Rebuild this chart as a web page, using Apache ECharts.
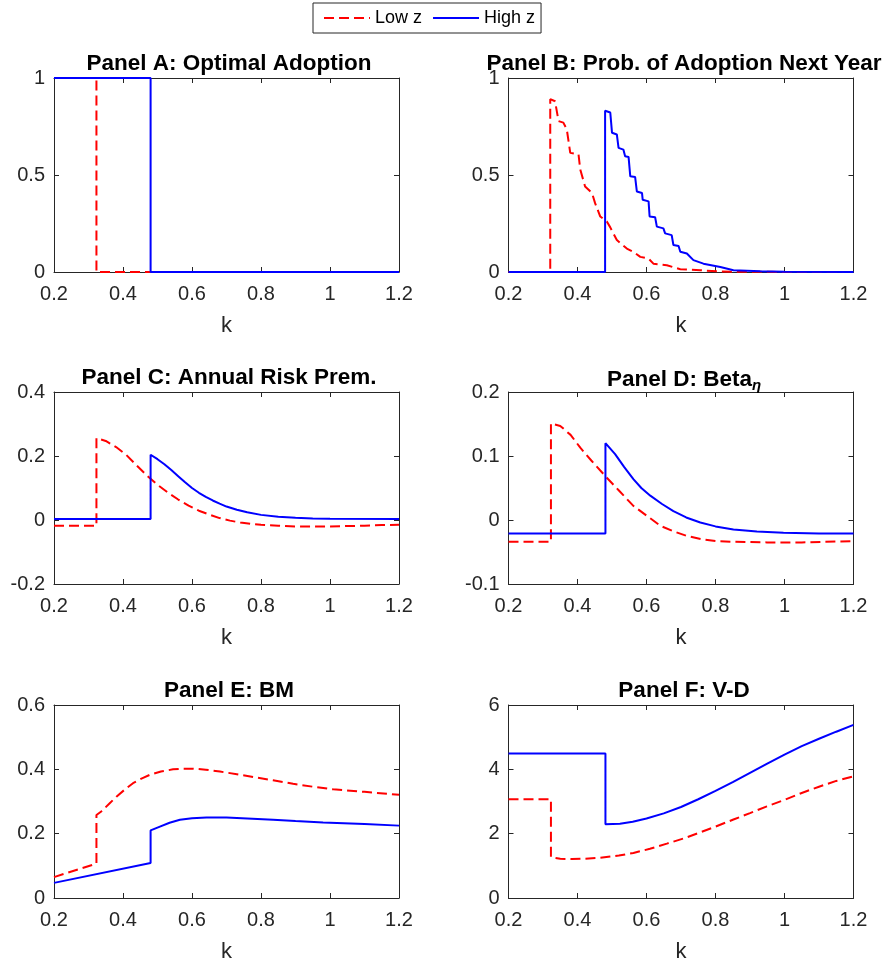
<!DOCTYPE html>
<html>
<head>
<meta charset="utf-8">
<script src="https://cdn.jsdelivr.net/npm/echarts@6/dist/echarts.min.js"></script>
<style>
  html, body { margin: 0; padding: 0; background: #fff; }
  #main { width: 887px; height: 966px; }
</style>
</head>
<body>
<div id="main"></div>
<script>
// x axis values (k) and the curves
var xTicks = [0.2, 0.4, 0.6, 0.8, 1, 1.2];

// Panel A: optimal adoption
var kLowA = [0.2, 0.323, 0.323, 1.2];
var lowA = [1, 1, 0, 0];
var kHighA = [0.2, 0.48, 0.48, 1.2];
var highA = [1, 1, 0, 0];

// Panel B: prob. of adoption next year
var kLowB = [0.2, 0.321, 0.321, 0.335, 0.345, 0.359, 0.369, 0.379, 0.403, 0.408, 0.422, 0.442, 0.451, 0.466, 0.485, 0.495, 0.504, 0.514, 0.543, 0.562, 0.582, 0.606, 0.620, 0.659, 0.698, 0.756, 0.804, 0.852, 1.2];
var lowB = [0, 0, 0.891, 0.88, 0.778, 0.770, 0.735, 0.614, 0.606, 0.528, 0.441, 0.407, 0.355, 0.286, 0.260, 0.230, 0.199, 0.165, 0.121, 0.104, 0.078, 0.069, 0.043, 0.035, 0.014, 0.009, 0.004, 0.001, 0];
var kHighB = [0.2, 0.48, 0.48, 0.495, 0.500, 0.514, 0.519, 0.533, 0.538, 0.548, 0.553, 0.567, 0.572, 0.587, 0.589, 0.606, 0.609, 0.625, 0.630, 0.649, 0.654, 0.673, 0.678, 0.693, 0.698, 0.717, 0.736, 0.765, 0.814, 0.852, 0.93, 1.0, 1.2];
var highB = [0, 0, 0.831, 0.822, 0.718, 0.709, 0.640, 0.631, 0.597, 0.593, 0.493, 0.490, 0.415, 0.407, 0.372, 0.364, 0.286, 0.282, 0.234, 0.225, 0.199, 0.190, 0.139, 0.134, 0.104, 0.095, 0.061, 0.043, 0.026, 0.009, 0.004, 0.001, 0];

// Panel C: annual risk premium
var kLowC = [0.2, 0.323, 0.323, 0.35, 0.38, 0.41, 0.44, 0.47, 0.50, 0.53, 0.56, 0.59, 0.62, 0.65, 0.68, 0.71, 0.74, 0.77, 0.80, 0.85, 0.90, 0.95, 1.00, 1.05, 1.10, 1.15, 1.20];
var lowC = [-0.018, -0.018, 0.256, 0.247, 0.228, 0.203, 0.170, 0.138, 0.110, 0.086, 0.064, 0.045, 0.029, 0.017, 0.006, -0.002, -0.008, -0.012, -0.015, -0.018, -0.020, -0.020, -0.020, -0.019, -0.018, -0.016, -0.015];
var kHighC = [0.2, 0.48, 0.48, 0.50, 0.52, 0.54, 0.56, 0.58, 0.60, 0.62, 0.64, 0.66, 0.68, 0.70, 0.73, 0.76, 0.80, 0.85, 0.90, 0.95, 1.0, 1.2];
var highC = [0.003, 0.003, 0.204, 0.190, 0.174, 0.156, 0.137, 0.118, 0.100, 0.085, 0.072, 0.061, 0.051, 0.042, 0.032, 0.024, 0.016, 0.010, 0.007, 0.005, 0.004, 0.003];

// Panel D: beta eta
var kLowD = [0.2, 0.323, 0.323, 0.35, 0.38, 0.408, 0.44, 0.47, 0.485, 0.52, 0.562, 0.60, 0.64, 0.68, 0.717, 0.76, 0.804, 0.85, 0.949, 1.05, 1.2];
var lowD = [-0.034, -0.034, 0.151, 0.147, 0.133, 0.113, 0.093, 0.075, 0.066, 0.046, 0.022, 0.007, -0.009, -0.018, -0.025, -0.030, -0.033, -0.034, -0.035, -0.035, -0.033];
var kHighD = [0.2, 0.481, 0.481, 0.509, 0.535, 0.562, 0.585, 0.611, 0.645, 0.678, 0.715, 0.756, 0.80, 0.852, 0.92, 0.997, 1.1, 1.2];
var highD = [-0.021, -0.021, 0.120, 0.103, 0.083, 0.064, 0.050, 0.038, 0.025, 0.014, 0.004, -0.004, -0.010, -0.015, -0.018, -0.020, -0.021, -0.021];

// Panel E: BM
var kLowE = [0.2, 0.323, 0.323, 0.337, 0.36, 0.381, 0.405, 0.429, 0.455, 0.478, 0.51, 0.545, 0.575, 0.603, 0.64, 0.681, 0.73, 0.777, 0.835, 0.893, 0.95, 1.009, 1.1, 1.2];
var lowE = [0.065, 0.107, 0.258, 0.269, 0.293, 0.315, 0.337, 0.357, 0.372, 0.383, 0.393, 0.400, 0.402, 0.402, 0.399, 0.393, 0.385, 0.376, 0.366, 0.355, 0.346, 0.338, 0.330, 0.321];
var kHighE = [0.2, 0.48, 0.48, 0.507, 0.535, 0.565, 0.60, 0.642, 0.70, 0.76, 0.835, 0.90, 0.98, 1.1, 1.2];
var highE = [0.047, 0.109, 0.210, 0.222, 0.234, 0.243, 0.248, 0.250, 0.250, 0.247, 0.243, 0.239, 0.235, 0.230, 0.225];

// Panel F: V-D
var kLowF = [0.2, 0.323, 0.323, 0.35, 0.384, 0.42, 0.466, 0.52, 0.562, 0.61, 0.659, 0.71, 0.756, 0.80, 0.852, 0.90, 0.949, 1.0, 1.046, 1.1, 1.15, 1.2];
var lowF = [3.07, 3.07, 1.27, 1.22, 1.21, 1.22, 1.25, 1.32, 1.40, 1.53, 1.69, 1.86, 2.04, 2.22, 2.44, 2.64, 2.85, 3.05, 3.25, 3.46, 3.64, 3.78];
var kHighF = [0.2, 0.481, 0.481, 0.523, 0.56, 0.60, 0.65, 0.70, 0.75, 0.80, 0.85, 0.90, 0.95, 1.0, 1.05, 1.1, 1.15, 1.2];
var highF = [4.49, 4.49, 2.29, 2.31, 2.37, 2.47, 2.63, 2.83, 3.07, 3.33, 3.60, 3.89, 4.18, 4.46, 4.72, 4.95, 5.17, 5.38];

function pairs(k, v) {
  return k.map(function (x, i) { return [x, v[i]]; });
}

var panels = [
  { title: 'Panel A: Optimal Adoption', yMin: 0, yMax: 1, yStep: 0.5, low: pairs(kLowA, lowA), high: pairs(kHighA, highA) },
  { title: 'Panel B: Prob. of Adoption Next Year', yMin: 0, yMax: 1, yStep: 0.5, low: pairs(kLowB, lowB), high: pairs(kHighB, highB) },
  { title: 'Panel C: Annual Risk Prem.', yMin: -0.2, yMax: 0.4, yStep: 0.2, low: pairs(kLowC, lowC), high: pairs(kHighC, highC) },
  { title: 'Panel D: Beta{sub|η}', yMin: -0.1, yMax: 0.2, yStep: 0.1, low: pairs(kLowD, lowD), high: pairs(kHighD, highD) },
  { title: 'Panel E: BM', yMin: 0, yMax: 0.6, yStep: 0.2, low: pairs(kLowE, lowE), high: pairs(kHighE, highE) },
  { title: 'Panel F: V-D', yMin: 0, yMax: 6, yStep: 2, low: pairs(kLowF, lowF), high: pairs(kHighF, highF) }
];

var FONT = '"Liberation Sans", Arial, Helvetica, sans-serif';
var AX = '#262626';
var lefts = [54, 508.5];
var tops = [78, 392, 705];
var heights = [194, 192, 193];
var titleX = [229, 684];
var titleTop = [52, 366, 679];

var grid = [], xAxis = [], yAxis = [], series = [], title = [];
var xTop = [], yRight = [];

panels.forEach(function (p, i) {
  var col = i % 2, row = Math.floor(i / 2);
  grid.push({ left: lefts[col], top: tops[row], width: 345, height: heights[row] });
  title.push({
    text: p.title, left: titleX[col], top: titleTop[row], textAlign: 'center', padding: 0,
    textStyle: {
      fontFamily: FONT, fontSize: 22.5, fontWeight: 'bold', color: '#000',
      rich: { sub: { fontFamily: FONT, fontSize: 15, fontWeight: 'bold', fontStyle: 'italic', color: '#000', padding: [12, 0, 0, 0] } }
    }
  });
  var base = {
    gridIndex: i, type: 'value',
    axisLine: { onZero: false, lineStyle: { color: AX, width: 1 } },
    axisTick: { inside: true, length: 5, lineStyle: { color: AX } },
    splitLine: { show: false }
  };
  xAxis.push(Object.assign({}, base, {
    position: 'bottom', min: 0.2, max: 1.2, interval: 0.2,
    axisLabel: { color: AX, fontSize: 20, fontFamily: FONT, margin: 12 },
    name: 'k', nameLocation: 'middle', nameGap: 43,
    nameTextStyle: { color: AX, fontSize: 22, fontFamily: FONT }
  }));
  xTop.push(Object.assign({}, base, {
    position: 'top', min: 0.2, max: 1.2, interval: 0.2, axisLabel: { show: false }
  }));
  yAxis.push(Object.assign({}, base, {
    position: 'left', min: p.yMin, max: p.yMax, interval: p.yStep,
    axisLabel: { color: AX, fontSize: 20, fontFamily: FONT, margin: 9 }
  }));
  yRight.push(Object.assign({}, base, {
    position: 'right', min: p.yMin, max: p.yMax, interval: p.yStep, axisLabel: { show: false }
  }));
  series.push({
    name: 'Low z', type: 'line', xAxisIndex: i, yAxisIndex: i, data: p.low,
    symbol: 'none', showSymbol: false, color: '#ff0000',
    lineStyle: { color: '#ff0000', width: 2, type: [10, 5] }, z: 3
  });
  series.push({
    name: 'High z', type: 'line', xAxisIndex: i, yAxisIndex: i, data: p.high,
    symbol: 'none', showSymbol: false, color: '#0000ff',
    lineStyle: { color: '#0000ff', width: 2 }, z: 4
  });
});

xAxis = xAxis.concat(xTop);
yAxis = yAxis.concat(yRight);

var myChart = echarts.init(document.getElementById('main'));
myChart.setOption({
  animation: false,
  backgroundColor: '#fff',
  title: title,
  legend: {
    data: ['Low z', 'High z'], left: 313, top: 3,
    itemWidth: 46, itemHeight: 14, itemGap: 10,
    padding: [6, 6, 6, 10],
    borderColor: AX, borderWidth: 1,
    itemStyle: { opacity: 0 },
    textStyle: { fontFamily: FONT, fontSize: 18, color: '#000' }
  },
  grid: grid,
  xAxis: xAxis,
  yAxis: yAxis,
  series: series
});
</script>
</body>
</html>
